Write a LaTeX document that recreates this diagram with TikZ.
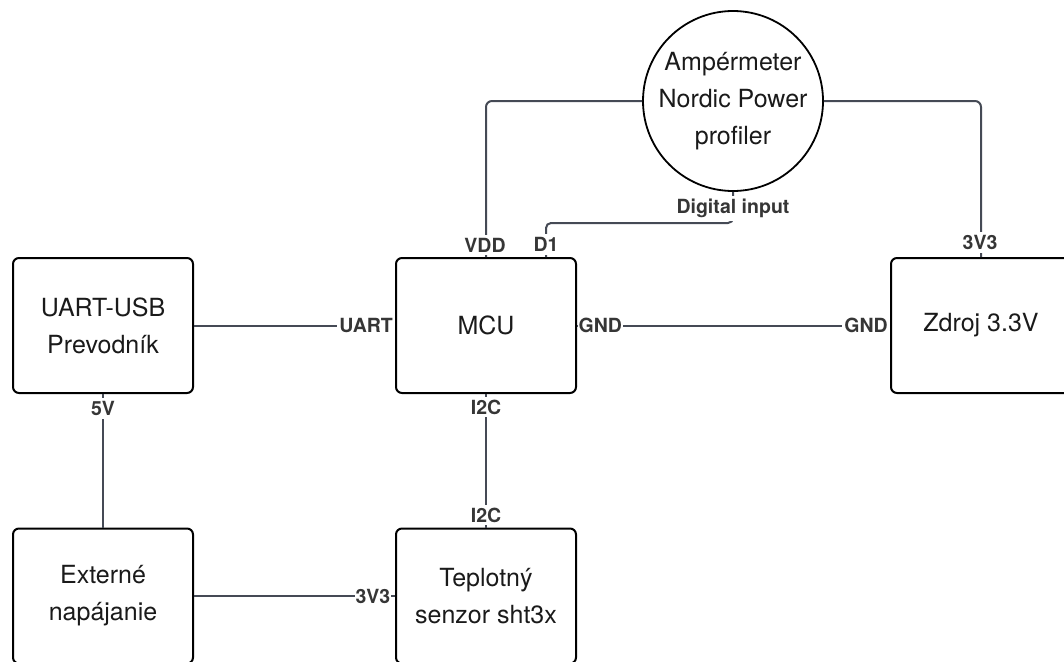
\documentclass[tikz,border=0pt]{standalone}
\usepackage{fontspec}
\setmainfont{TeX Gyre Heros}
\usetikzlibrary{calc}
\definecolor{wirecol}{HTML}{454A55}
\definecolor{pincol}{HTML}{363636}
\definecolor{inkcol}{HTML}{1A1A1A}
\begin{document}
\begin{tikzpicture}[x=1pt,y=-1pt,
  block/.style={draw=black, line width=2pt, rounded corners=6pt,
    minimum width=180pt, minimum height=135pt, inner sep=0pt,
    align=center, text=inkcol, font=\fontsize{25}{37}\selectfont},
  meter/.style={draw=black, line width=1.8pt, circle, minimum size=180pt,
    inner sep=0pt, align=center, text=inkcol, font=\fontsize{25}{37}\selectfont},
  wire/.style={draw=wirecol, line width=2pt, rounded corners=6pt},
  pin/.style={fill=white, text=pincol, inner xsep=0.5pt, inner ysep=3pt,
    font=\fontsize{19.5}{21}\selectfont\bfseries}
]
\useasboundingbox (0,0) rectangle (1064,661);
\clip (0,0) rectangle (1064,661);

% blocks
\node[block] (usb)   at (103,325.5) {UART-USB\\Prevodník};
\node[block] (mcu)   at (486,325.5) {MCU};
\node[block] (zdroj) at (981,325.5) {Zdroj 3.3V};
\node[block] (ext)   at (103,596)   {Externé\\napájanie};
\node[block] (sens)  at (486,596)   {Teplotný\\senzor sht3x};
\node[meter] (amp)   at (733,101)   {Ampérmeter\\Nordic Power\\profiler};

% pin on the MCU used for the digital input
\coordinate (d1pin) at ($(mcu.north)+(60,0)$);

% wires
\draw[wire] (usb.east) -- (mcu.west);
\draw[wire] (mcu.east) -- (zdroj.west);
\draw[wire] (mcu.south) -- (sens.north);
\draw[wire] (usb.south) -- (ext.north);
\draw[wire] (ext.east) -- (sens.west);
\draw[wire] (amp.west) -| (mcu.north);
\draw[wire] (amp.east) -| (zdroj.north);
\draw[wire, rounded corners=5pt] (amp.south) |- ($(d1pin)+(0,-34)$) -- (d1pin);

% pin labels
\node[pin, anchor=east, inner xsep=2pt] (uartpin) at (mcu.west) {UART};
\node[pin, anchor=west] (gndmcu) at ($(mcu.east)+(1,0)$) {GND};
\node[pin, anchor=east, inner xsep=2pt] (gndsrc) at (zdroj.west) {GND};
\node[pin] (i2cmcu) at ($(mcu.south)+(0,13)$) {I2C};
\node[pin] (i2csens) at ($(sens.north)+(0,-12.5)$) {I2C};
\node[pin] (fivev) at ($(usb.south)+(0,14.5)$) {5V};
\node[pin, anchor=east] (supsens) at ($(sens.west)+(-4,0)$) {3V3};
\node[pin] (vdd) at ($(mcu.north)+(-1,-12)$) {VDD};
\node[pin] (d1) at ($(d1pin)+(0,-12.5)$) {D1};
\node[pin] (supsrc) at ($(zdroj.north)+(-1,-14.5)$) {3V3};
\node[pin, anchor=base] (dig) at ($(amp.south)+(0,22)$) {Digital input};
\end{tikzpicture}
\end{document}
